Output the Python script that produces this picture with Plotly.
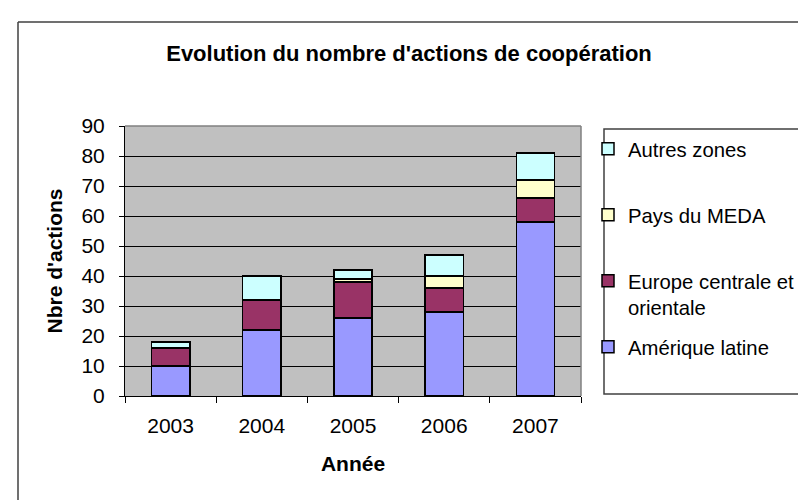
import plotly.graph_objects as go

years = ["2003", "2004", "2005", "2006", "2007"]
amerique_latine = [10, 22, 26, 28, 58]
europe_centrale = [6, 10, 12, 8, 8]
pays_meda = [0, 0, 1, 4, 6]
autres_zones = [2, 8, 3, 7, 9]

series = [
    ("Amérique latine", amerique_latine, "#9999FF"),
    ("Europe centrale et<br>orientale", europe_centrale, "#993366"),
    ("Pays du MEDA", pays_meda, "#FFFFCC"),
    ("Autres zones", autres_zones, "#CCFFFF"),
]
# vertical pixel centre of each legend entry (top entry = Autres zones)
legend_centres = [339, 286, 207, 141]
legend_keys = ["legend", "legend2", "legend3", "legend4"]

W, H = 806, 500
L, R, T, B = 117, 573, 118, 388

def px(x):
    return (x - L) / (R - L)

def py(y):
    return (B - y) / (B - T)

font = "Liberation Sans, Arial, sans-serif"

fig = go.Figure()
for (name, vals, col), key in zip(series, legend_keys):
    fig.add_trace(go.Bar(
        x=years, y=vals, name=name, legend=key,
        marker=dict(color=col, line=dict(color="black", width=1.5)),
    ))

legends = {}
for key, yc in zip(legend_keys, legend_centres):
    legends[key] = dict(x=px(580), xanchor="left", y=py(yc), yanchor="middle",
                        valign="top", bgcolor="rgba(0,0,0,0)", borderwidth=0,
                        font=dict(size=20.3, family=font, color="black"))

fig.update_layout(
    width=W, height=H,
    margin=dict(l=L, r=W - R, t=T, b=H - B, autoexpand=False),
    paper_bgcolor="white", plot_bgcolor="#C0C0C0",
    barmode="stack", bargap=0.58,
    font=dict(family=font, size=20, color="black"),
    title=dict(text="<b>Evolution du nombre d'actions de coopération</b>",
               x=401 / W, xanchor="center", y=1 - 45 / H, yanchor="middle",
               font=dict(size=22, family=font)),
    showlegend=True,
    xaxis=dict(showline=True, linecolor="black", linewidth=1,
               ticks="outside", ticklen=6, tickcolor="black",
               tickson="boundaries", ticklabelstandoff=11,
               tickfont=dict(size=21),
               title=dict(text="<b>Année</b>", font=dict(size=21), standoff=20)),
    yaxis=dict(range=[0, 90], dtick=10, showline=True, linecolor="black",
               linewidth=1, ticks="outside", ticklen=5, tickcolor="black",
               showgrid=True, gridcolor="black", gridwidth=1,
               zeroline=False, ticklabelstandoff=10,
               tickfont=dict(size=21),
               title=dict(text="<b>Nbre d'actions</b>", font=dict(size=21), standoff=13)),
    shapes=[
        dict(type="line", xref="paper", yref="paper", x0=0, x1=1, y0=1, y1=1,
             line=dict(color="#808080", width=1.5)),
        dict(type="line", xref="paper", yref="paper", x0=1, x1=1, y0=0, y1=1,
             line=dict(color="#808080", width=1.5)),
        dict(type="rect", xref="paper", yref="paper", x0=px(596), x1=px(806),
             y0=py(386), y1=py(121), line=dict(color="#404040", width=1.5)),
        dict(type="line", xref="paper", yref="paper", x0=px(10), x1=px(10),
             y0=py(14), y1=py(500), line=dict(color="#404040", width=1.5)),
        dict(type="line", xref="paper", yref="paper", x0=px(10), x1=px(806),
             y0=py(14), y1=py(14), line=dict(color="#404040", width=1.5)),
    ],
    **legends,
)

fig.write_html("out.html")
